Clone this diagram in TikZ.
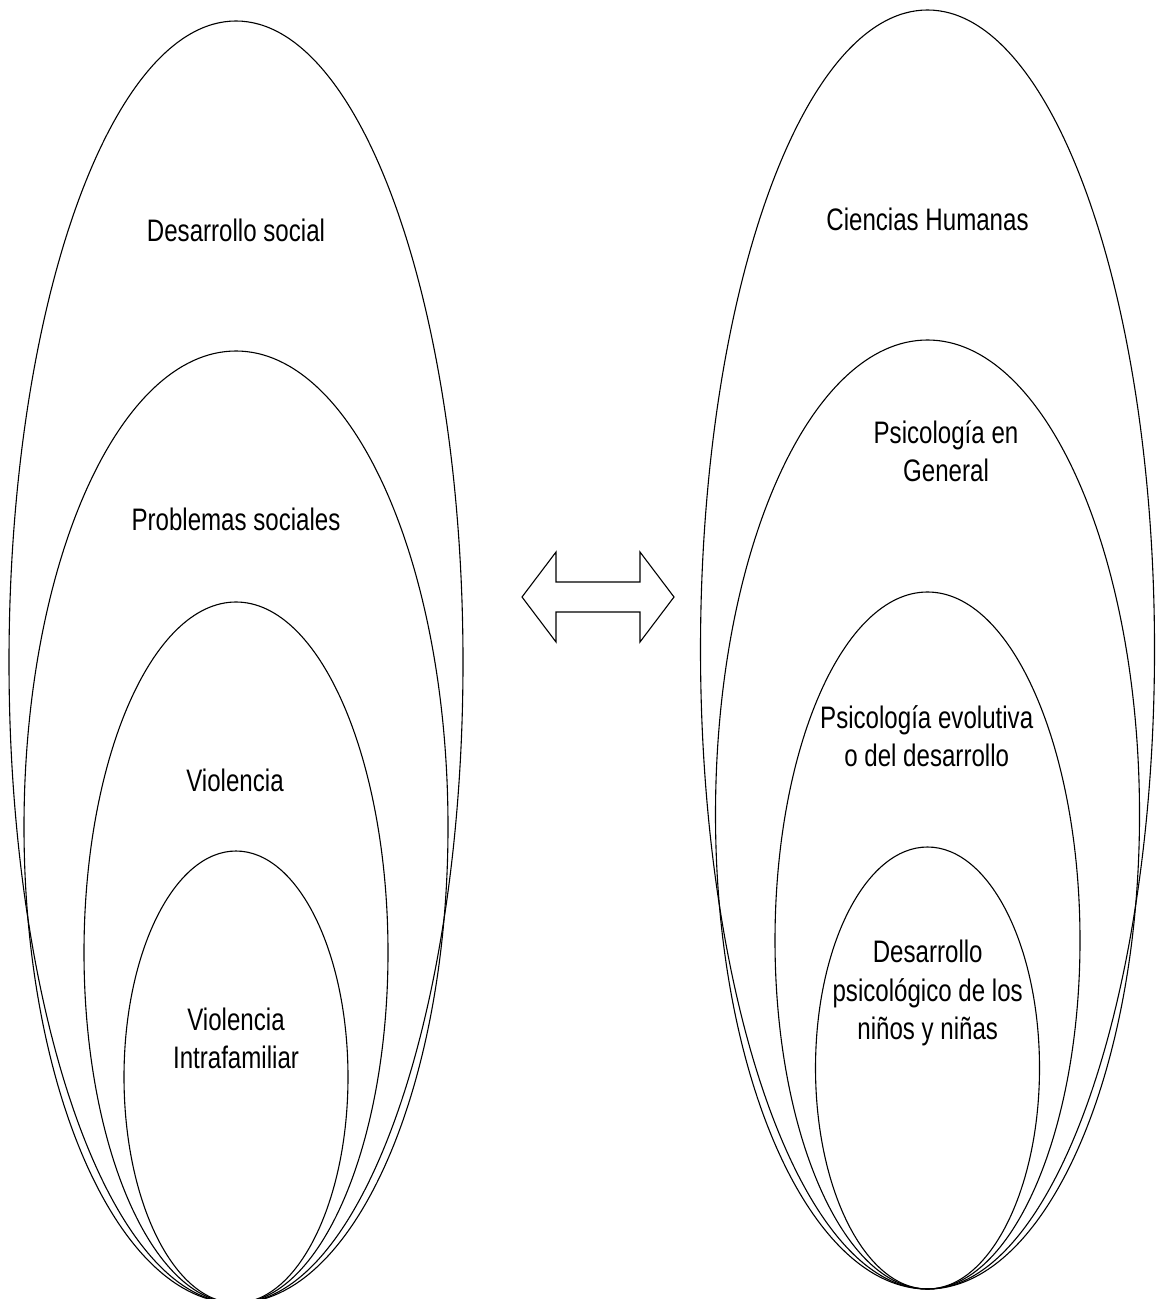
\documentclass[tikz,border=0pt]{standalone}
\usepackage{fontspec}
\setmainfont{Liberation Sans}[FakeStretch=0.775]

\begin{document}
\begin{tikzpicture}[x=0.5pt, y=-0.5pt,
    ring/.style={line width=0.55pt},
    txt/.style={anchor=base, align=center, inner sep=0pt,
      font=\fontsize{15.55pt}{19.15pt}\selectfont}]
    \useasboundingbox (0,0) rectangle (1157,1299);
    % left group
    \draw[ring] (236,662) ellipse (227 and 641);
    \draw[ring] (236,827) ellipse (212 and 476);
    \draw[ring] (236,952.5) ellipse (152 and 350.5);
    \draw[ring] (236,1077) ellipse (112 and 226);
    % right group
    \draw[ring] (927.5,649.5) ellipse (227 and 639.5);
    \draw[ring] (927.5,814.5) ellipse (212 and 474.5);
    \draw[ring] (927.5,940.5) ellipse (152.5 and 348.5);
    \draw[ring] (927.5,1068) ellipse (112 and 221);
    % double arrow
    \draw[ring, line join=miter] (522,597) -- (556,552) -- (556,582) -- (640,582) -- (640,552)
      -- (674,597) -- (640,642) -- (640,612) -- (556,612) -- (556,642) -- cycle;
    \node[txt] (desSocial) at (236,241.7) {Desarrollo social};
    \node[txt] (probSociales) at (236,530) {Problemas sociales};
    \node[txt] (violencia) at (235,791.7) {Violencia};
    \node[txt] (violIntra) at (236,1068.3) {Violencia\\Intrafamiliar};
    \node[txt] (cienHum) at (927.5,230.7) {Ciencias Humanas};
    \node[txt] (psicGeneral) at (946,481.7) {Psicología en\\General};
    \node[txt] (psicEvol) at (926.7,766.7) {Psicología evolutiva\\o del desarrollo};
    \node[txt] (desPsic) at (927.7,1039.3) {Desarrollo\\psicológico de los\\niños y niñas};
\end{tikzpicture}
\end{document}
